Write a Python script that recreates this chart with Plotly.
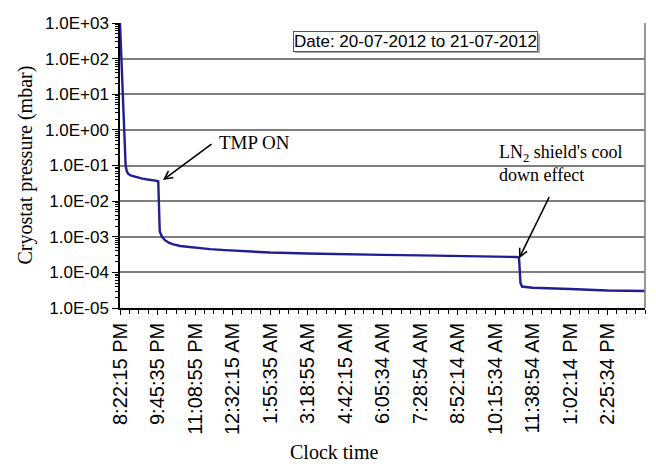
import plotly.graph_objects as go

# elapsed seconds since 8:22:15 PM (20-07-2012)
time_s = [0, 150, 300, 450, 600, 750, 900, 1100, 1500, 2000, 2500, 3000, 3500, 4000,
          4500, 4900, 5100, 5150, 5200, 5300, 5600, 6000, 6500, 7000, 8000, 9000,
          10000, 12000, 14000, 17000, 20000, 25000, 30000, 35000, 40000, 45000,
          50000, 52800, 53200, 53300, 53400, 53600, 55000, 60000, 65000, 70000]
pressure = [1000, 150, 20, 2, 0.3, 0.1, 0.07, 0.058, 0.052, 0.048, 0.045, 0.043, 0.041, 0.040,
            0.038, 0.037, 0.036, 0.01, 0.003, 0.0014, 0.0010, 0.0008, 0.00068, 0.00062,
            0.00055, 0.00052, 0.00049, 0.00045, 0.00042, 0.00039, 0.00036, 0.00034,
            0.00032, 0.00031, 0.00030, 0.00029, 0.00028, 0.00027, 0.00026, 0.00012,
            0.00005, 0.00004, 0.000037, 0.000034, 0.000031, 0.00003]

x_tick_vals = [0, 5000, 10000, 15000, 20000, 25000, 30000, 35000, 40000, 45000,
               50000, 55000, 60000, 65000]
x_tick_text = ["8:22:15 PM", "9:45:35 PM", "11:08:55 PM", "12:32:15 AM", "1:55:35 AM",
               "3:18:55 AM", "4:42:15 AM", "6:05:34 AM", "7:28:54 AM", "8:52:14 AM",
               "10:15:34 AM", "11:38:54 AM", "1:02:14 PM", "2:25:34 PM"]
y_tick_vals = [1e-5, 1e-4, 1e-3, 1e-2, 1e-1, 1e0, 1e1, 1e2, 1e3]
y_tick_text = ["1.0E-05", "1.0E-04", "1.0E-03", "1.0E-02", "1.0E-01",
               "1.0E+00", "1.0E+01", "1.0E+02", "1.0E+03"]
y_minor_vals = [m * d for d in y_tick_vals[:-1] for m in range(2, 10)]

fig = go.Figure()
fig.add_trace(go.Scatter(x=time_s, y=pressure, mode="lines",
                         line=dict(color="#1f1f92", width=2.4), showlegend=False))

sans = "Liberation Sans, Arial, sans-serif"
serif = "Liberation Serif, Times New Roman, serif"

# page body has an 8px margin, so the figure is 648x458 to fill a 656x466 window
fig.update_layout(
    width=648, height=458,
    margin=dict(l=112, r=11, t=15, b=158),
    paper_bgcolor="white", plot_bgcolor="white",
    xaxis=dict(range=[0, 70000], tickvals=x_tick_vals, ticktext=x_tick_text,
               tickangle=-90, tickfont=dict(family=sans, size=20, color="black"),
               showgrid=False, zeroline=False, showline=True, linecolor="black",
               linewidth=1.5, ticks="outside", ticklen=5, tickcolor="black",
               automargin=False,
               minor=dict(dtick=1250, ticks="outside", ticklen=4, tickcolor="black",
                          showgrid=False)),
    yaxis=dict(type="log", range=[-5, 3], tickvals=y_tick_vals, ticktext=y_tick_text,
               tickfont=dict(family=sans, size=17, color="black"),
               showgrid=True, gridcolor="#7e7e7e", gridwidth=1.6, zeroline=False,
               showline=True, linecolor="black", linewidth=1.5,
               ticks="outside", ticklen=6, tickcolor="black", automargin=False,
               minor=dict(tickmode="array", tickvals=y_minor_vals, ticks="outside",
                          ticklen=3, tickcolor="black", showgrid=False)),
)

# right border of plot area
fig.add_shape(type="line", xref="paper", yref="paper", x0=1, x1=1, y0=0, y1=1,
              line=dict(color="#7e7e7e", width=1.6))

fig.add_annotation(xref="paper", yref="paper", x=(25 - 120) / 525, y=0.5,
                   xanchor="center", yanchor="middle",
                   text="Cryostat pressure (mbar)", textangle=-90, showarrow=False,
                   font=dict(family=serif, size=20, color="black"))
fig.add_annotation(xref="paper", yref="paper", x=(334 - 120) / 525, y=(308 - 452) / 285,
                   xanchor="center", yanchor="middle",
                   text="Clock time", showarrow=False,
                   font=dict(family=serif, size=20, color="black"))

# date box (with shadow)
fig.add_shape(type="rect", xref="paper", yref="paper",
              x0=(295 - 120) / 525, x1=(540 - 120) / 525,
              y0=(308 - 53) / 285, y1=(308 - 34) / 285,
              line=dict(width=0), fillcolor="#a8a8a8")
fig.add_annotation(xref="paper", yref="paper", x=(415.5 - 120) / 525, y=(308 - 41.5) / 285,
                   xanchor="center", yanchor="middle",
                   text="Date: 20-07-2012 to 21-07-2012", showarrow=False,
                   font=dict(family=sans, size=17, color="black"),
                   bgcolor="white", bordercolor="#555555", borderwidth=1, borderpad=0)

# TMP ON
fig.add_annotation(xref="paper", yref="paper", x=(217 - 120) / 525, y=(308 - 142) / 285,
                   xanchor="left", yanchor="middle", text="TMP ON", showarrow=False,
                   font=dict(family=serif, size=19, color="black"))
fig.add_annotation(x=5730, y=-1.41, xref="x", yref="y", text="",
                   showarrow=True, ax=50, ay=-37, arrowhead=5, arrowsize=1,
                   arrowwidth=1.6, arrowcolor="black", standoff=0, startstandoff=0)

# LN2 shield
fig.add_annotation(xref="paper", yref="paper", x=(497 - 120) / 525, y=(308 - 163.5) / 285,
                   xanchor="left", yanchor="middle", align="left",
                   text="LN<sub>2</sub> shield's cool<br>down effect", showarrow=False,
                   font=dict(family=serif, size=18, color="black"))
fig.add_annotation(x=53200, y=-3.61, xref="x", yref="y", text="",
                   showarrow=True, ax=31, ay=-63, arrowhead=5, arrowsize=1,
                   arrowwidth=1.6, arrowcolor="black", standoff=0, startstandoff=0)

fig.write_html("out.html")
